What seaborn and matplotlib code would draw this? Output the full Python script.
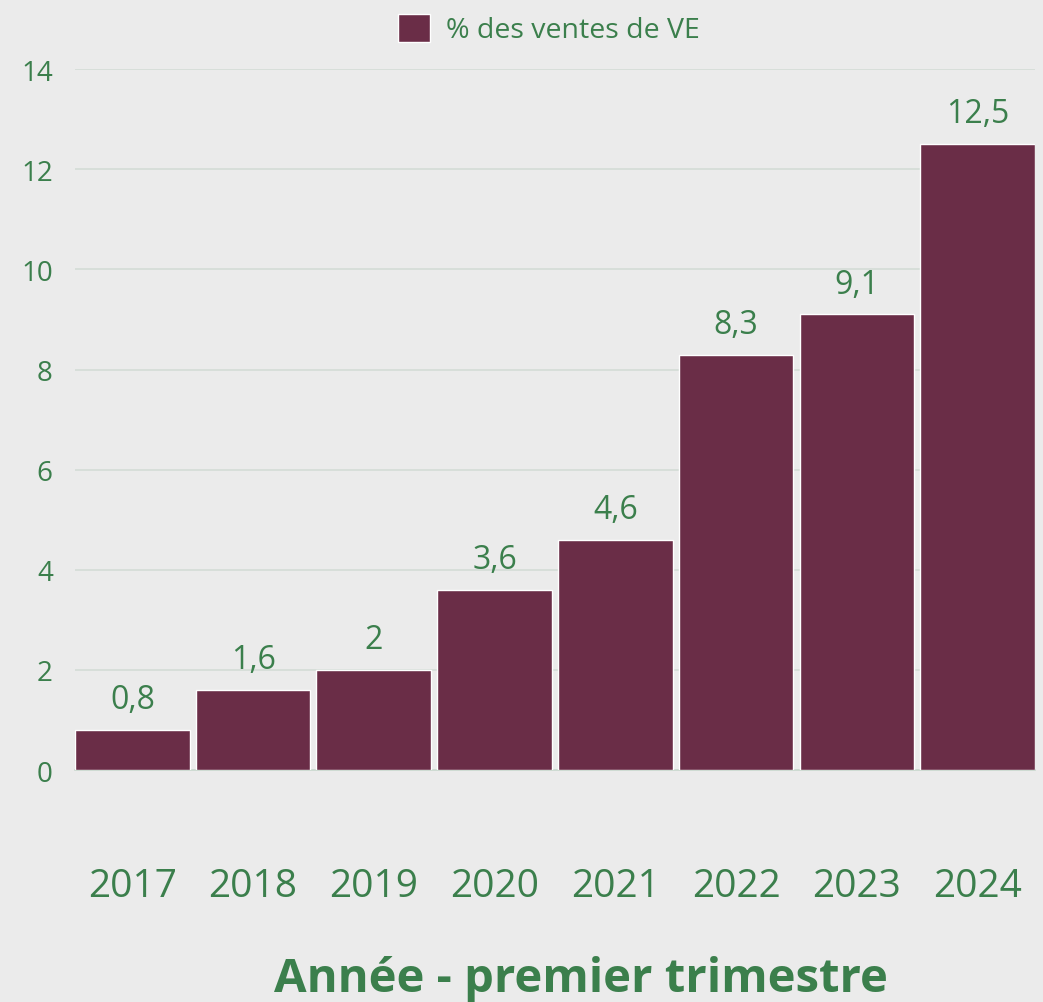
import pandas as pd
import seaborn as sns
import matplotlib.pyplot as plt

years = ['2017', '2018', '2019', '2020', '2021', '2022', '2023', '2024']
share_ev = [0.8, 1.6, 2.0, 3.6, 4.6, 8.3, 9.1, 12.5]
series_name = '% des ventes de VE'

bar_color = '#6A2D47'
green = '#3B7F4C'
bg = '#EBEBEB'

df = pd.DataFrame({'Année': years, 'share': share_ev})

sns.set_theme(style='white')
plt.rcParams['font.family'] = ['Open Sans', 'DejaVu Sans']

fig = plt.figure(figsize=(10.43, 10.03), dpi=100, facecolor=bg)
ax = fig.add_axes([0.0719, 0.2313, 0.9204, 0.6987])
ax.set_facecolor(bg)

sns.barplot(data=df, x='Année', y='share', color=bar_color, width=0.95,
            saturation=1, label=series_name, ax=ax, zorder=3)
ax.get_legend().remove()

ax.set_ylim(0, 14)
ax.set_xlim(-0.475, 7.475)
ax.set_yticks(range(0, 15, 2))
ax.grid(axis='y', color='#D3DCD6', linewidth=1.2, zorder=0)
for s in ['top', 'right', 'left']:
    ax.spines[s].set_visible(False)
ax.spines['bottom'].set_color('#C9D8CD')
ax.spines['bottom'].set_linewidth(1.2)

ax.tick_params(axis='y', length=0, labelsize=20, labelcolor=green, pad=16)
ax.tick_params(axis='x', length=0, labelsize=28, labelcolor=green, pad=70)

labels = [f'{v:g}'.replace('.', ',') for v in share_ev]
ax.bar_label(ax.containers[0], labels=labels, padding=10, fontsize=23, color=green)

ax.set_ylabel('')
ax.set_xlabel('Année - premier trimestre', fontsize=34, fontweight='bold',
              color=green, labelpad=36)
ax.xaxis.label.set_x(0.527)

h, l = ax.get_legend_handles_labels()
fig.legend(h, l, loc='center', bbox_to_anchor=(0.526, 0.970), frameon=False,
           fontsize=20.5, labelcolor=green, handlelength=1.15, handleheight=1.15,
           handletextpad=0.55)

fig.savefig('out.png', dpi=100, facecolor=bg)
